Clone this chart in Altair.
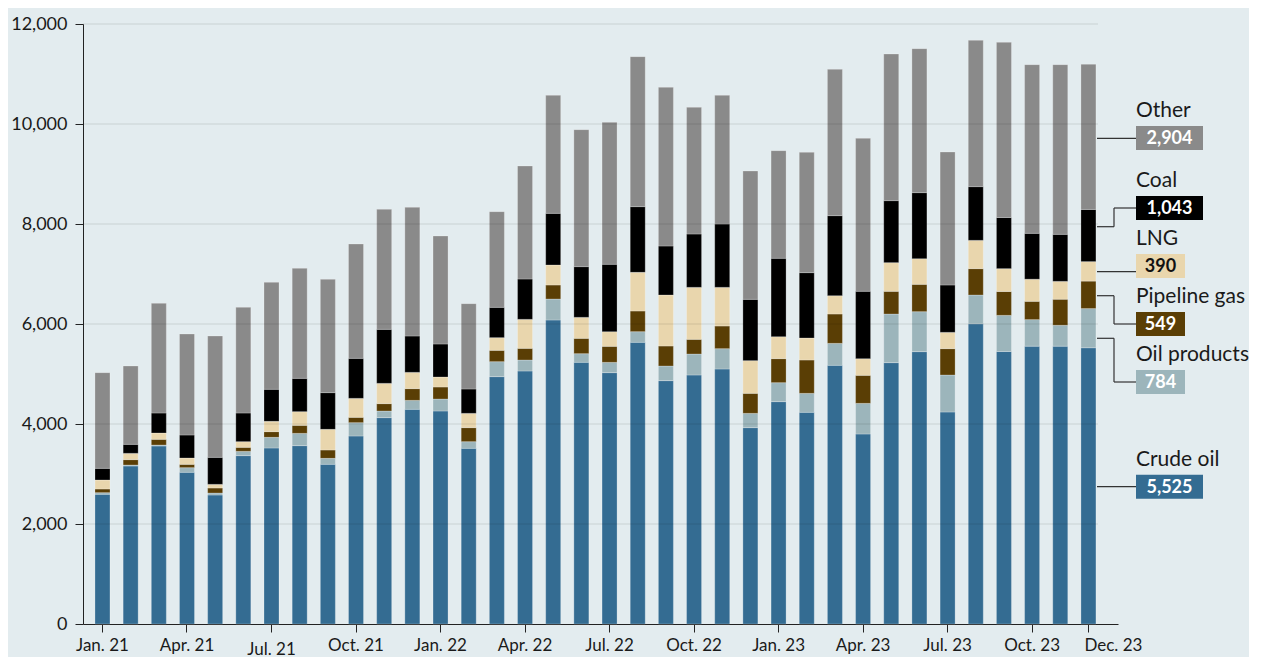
import altair as alt
import pandas as pd

months = [
    "Jan. 21", "Feb. 21", "Mar. 21", "Apr. 21", "May 21", "Jun. 21",
    "Jul. 21", "Aug. 21", "Sep. 21", "Oct. 21", "Nov. 21", "Dec. 21",
    "Jan. 22", "Feb. 22", "Mar. 22", "Apr. 22", "May 22", "Jun. 22",
    "Jul. 22", "Aug. 22", "Sep. 22", "Oct. 22", "Nov. 22", "Dec. 22",
    "Jan. 23", "Feb. 23", "Mar. 23", "Apr. 23", "May 23", "Jun. 23",
    "Jul. 23", "Aug. 23", "Sep. 23", "Oct. 23", "Nov. 23", "Dec. 23",
]
tick_labels = ["Jan. 21", "Apr. 21", "Jul. 21", "Oct. 21", "Jan. 22", "Apr. 22",
               "Jul. 22", "Oct. 22", "Jan. 23", "Apr. 23", "Jul. 23", "Oct. 23", "Dec. 23"]
y_ticks = [0, 2000, 4000, 6000, 8000, 10000, 12000]

crude_oil = [2593, 3160, 3560, 3033, 2580, 3367, 3520, 3567, 3193, 3760, 4127, 4293,
             4260, 3513, 4947, 5060, 6080, 5233, 5027, 5633, 4867, 4980, 5100, 3927,
             4447, 4233, 5173, 3800, 5227, 5447, 4240, 6004, 5450, 5556, 5556, 5525]
oil_products = [34, 20, 20, 94, 40, 86, 213, 246, 120, 267, 133, 180,
                240, 134, 300, 220, 420, 174, 206, 214, 293, 420, 407, 286,
                380, 380, 440, 613, 973, 800, 740, 576, 723, 532, 419, 784]
pipeline_gas = [73, 107, 113, 66, 100, 80, 114, 160, 167, 106, 147, 234,
                240, 280, 226, 233, 280, 306, 320, 413, 400, 293, 453, 400,
                480, 667, 587, 560, 453, 546, 527, 527, 477, 365, 520, 549]
lng = [180, 126, 127, 127, 73, 114, 206, 274, 413, 380, 406, 326,
       200, 286, 254, 580, 400, 420, 294, 773, 1020, 1040, 773, 654,
       440, 440, 367, 334, 574, 514, 326, 566, 457, 443, 358, 390]
coal = [233, 180, 400, 460, 540, 573, 640, 666, 734, 800, 1080, 727,
        660, 487, 606, 807, 1033, 1014, 1346, 1314, 980, 1067, 1267, 1226,
        1566, 1307, 1600, 1346, 1240, 1320, 947, 1074, 1023, 917, 940, 1043]
other = [1914, 1567, 2193, 2020, 2427, 2113, 2140, 2200, 2266, 2287, 2400, 2573,
         2160, 1707, 1914, 2260, 2360, 2740, 2840, 3000, 3173, 2533, 2573, 2567,
         2154, 2406, 2926, 3060, 2933, 2880, 2660, 2926, 3503, 3374, 3394, 2904]

categories = ["Crude oil", "Oil products", "Pipeline gas", "LNG", "Coal", "Other"]
colors = ["#346c92", "#9cb5bb", "#5a3e05", "#e9d6ad", "#000000", "#8a8a8a"]
value_text_colors = ["#ffffff", "#ffffff", "#ffffff", "#111111", "#ffffff", "#ffffff"]
series = [crude_oil, oil_products, pipeline_gas, lng, coal, other]

# label layout (in data units of the y scale)
label_box_center = [2746, 4840, 6000, 7160, 8320, 9720]
label_anchor = [2746, 5714, 6566, 7046, 7946, 9714]
label_elbow = [False, True, True, False, True, False]

BG = "#e3ecef"
FONT = "Lato"
W, H = 1035, 600
BAR_EDGE, ELBOW, BOX_L = 1014, 1031, 1053

rows = []
for k, cat in enumerate(categories):
    for i, m in enumerate(months):
        rows.append({"month": m, "cat": cat, "value": series[k][i], "order": k})
df = pd.DataFrame(rows)

lab = pd.DataFrame({
    "cat": categories,
    "last": [s[-1] for s in series],
    "center": label_box_center,
    "anchor": label_anchor,
    "elbow": label_elbow,
    "tcolor": value_text_colors,
    "fill": colors,
})
lab["txt"] = lab["last"].map(lambda v: f"{v:,}")
lab["y0"] = lab["center"] - 240
lab["y1"] = lab["center"] + 240
lab["name_y"] = lab["center"] + 420
lab["wide"] = lab["txt"].str.len() > 3

y_scale = alt.Scale(domain=[0, 12000], nice=False)
y_axis = alt.Axis(values=y_ticks, labelExpr="format(datum.value, ',')", title=None, grid=False,
                  tickSize=8, labelPadding=8, labelFont=FONT, labelFontSize=18, labelColor="#1a1a1a",
                  domainColor="#222222", tickColor="#222222",
                  minExtent=75, maxExtent=75)


def Y(field):
    return alt.Y(field, scale=y_scale, axis=y_axis, title=None)


bars = alt.Chart(df).mark_bar(stroke="white", strokeWidth=0.8, strokeOpacity=0.3).encode(
    x=alt.X("month:N", sort=months,
            scale=alt.Scale(paddingInner=0.4675, paddingOuter=0.604, align=0.352, round=False),
            axis=alt.Axis(values=tick_labels, title=None, labelAngle=0, tickSize=8,
                          labelPadding={"condition": {"test": "datum.label == 'Jul. 21'", "value": 9}, "value": 5},
                          labelAlign={"condition": {"test": "datum.label == 'Dec. 23'", "value": "left"}, "value": "center"},
                          labelOffset={"condition": {"test": "datum.label == 'Dec. 23'", "value": -4}, "value": 0},
                          labelFont=FONT, labelFontSize=17, labelColor="#1a1a1a",
                          domainColor="#222222", tickColor="#222222", grid=False)),
    y=alt.Y("value:Q", stack="zero", scale=y_scale, axis=y_axis, title=None),
    color=alt.Color("cat:N", scale=alt.Scale(domain=categories, range=colors), legend=None),
    order=alt.Order("order:Q", sort="ascending"),
)

grid = alt.Chart(pd.DataFrame({"g": y_ticks[1:]})).mark_rule(
    color="#000000", opacity=0.11, strokeWidth=1
).encode(y=Y("g:Q"), x=alt.value(0), x2=alt.value(BAR_EDGE + 1))

line_style = dict(color="#333333", strokeWidth=1.2)

straight = alt.Chart(lab).transform_filter("!datum.elbow").mark_rule(**line_style).encode(
    y=Y("anchor:Q"), x=alt.value(BAR_EDGE), x2=alt.value(BOX_L))
elb1 = alt.Chart(lab).transform_filter("datum.elbow").mark_rule(**line_style).encode(
    y=Y("anchor:Q"), x=alt.value(BAR_EDGE), x2=alt.value(ELBOW))
elb2 = alt.Chart(lab).transform_filter("datum.elbow").mark_rule(**line_style).encode(
    y=Y("anchor:Q"), y2="center:Q", x=alt.value(ELBOW))
elb3 = alt.Chart(lab).transform_filter("datum.elbow").mark_rule(**line_style).encode(
    y=Y("center:Q"), x=alt.value(ELBOW), x2=alt.value(BOX_L))

box_w = alt.Chart(lab).transform_filter("datum.wide").mark_rect().encode(
    y=Y("y0:Q"), y2="y1:Q", x=alt.value(BOX_L), x2=alt.value(BOX_L + 67),
    fill=alt.Fill("fill:N", scale=None))
box_n = alt.Chart(lab).transform_filter("!datum.wide").mark_rect().encode(
    y=Y("y0:Q"), y2="y1:Q", x=alt.value(BOX_L), x2=alt.value(BOX_L + 49),
    fill=alt.Fill("fill:N", scale=None))

val_w = alt.Chart(lab).transform_filter("datum.wide").mark_text(
    font=FONT, fontSize=18, fontWeight="bold", align="center", baseline="middle", dy=1
).encode(y=Y("center:Q"), x=alt.value(BOX_L + 33.5), text="txt:N",
         color=alt.Color("tcolor:N", scale=None))
val_n = alt.Chart(lab).transform_filter("!datum.wide").mark_text(
    font=FONT, fontSize=18, fontWeight="bold", align="center", baseline="middle", dy=1
).encode(y=Y("center:Q"), x=alt.value(BOX_L + 24.5), text="txt:N",
         color=alt.Color("tcolor:N", scale=None))

names = alt.Chart(lab).mark_text(
    font=FONT, fontSize=21, align="left", baseline="alphabetic", color="#1a1a1a"
).encode(y=Y("name_y:Q"), x=alt.value(BOX_L), text="cat:N")

chart = alt.layer(bars, grid, straight, elb1, elb2, elb3, box_w, box_n, val_w, val_n, names).properties(
    width=W, height=H,
    padding={"left": 0, "top": 7, "right": 0, "bottom": 0},
    background=BG,
).configure_view(stroke=None)

chart.save("out.html", embed_options={"renderer": "svg", "actions": False})
